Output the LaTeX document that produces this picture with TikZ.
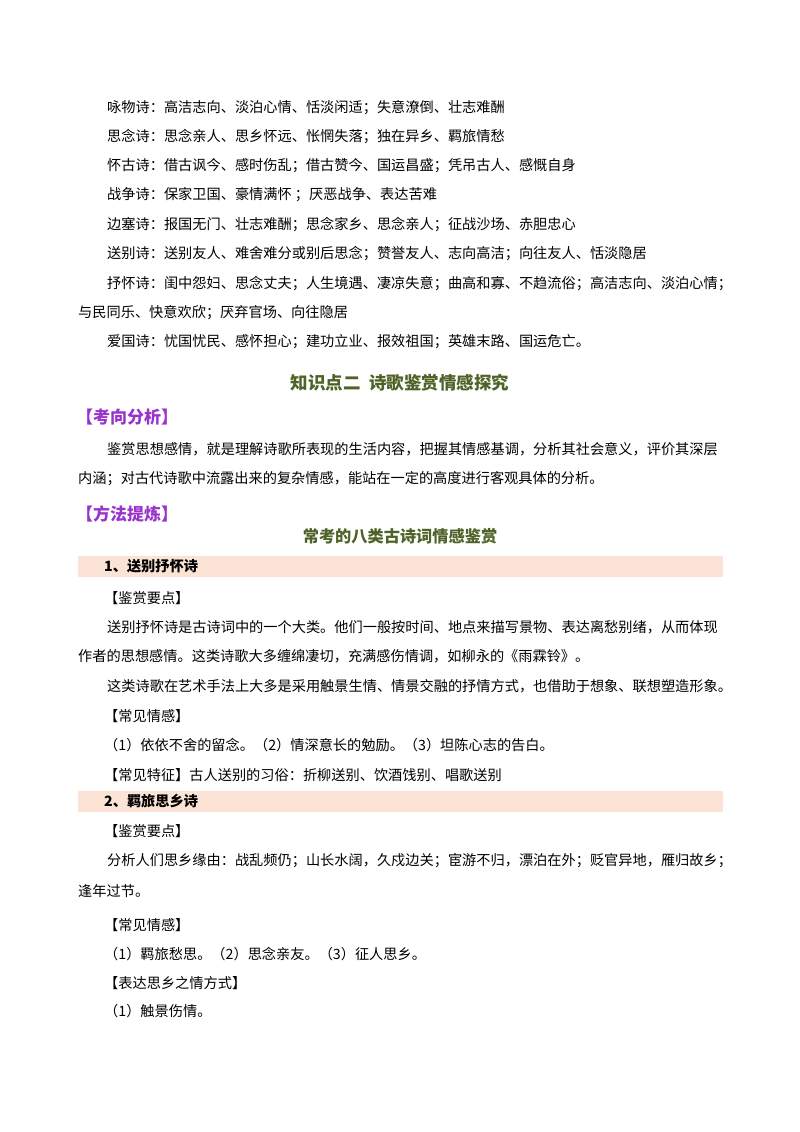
\documentclass[tikz,border=0pt]{standalone}
\usepackage{fontspec}
\setmainfont{Noto Sans CJK SC}
\definecolor{hgreen}{HTML}{4F6228}
\definecolor{hpurple}{HTML}{9933CC}
\definecolor{band}{HTML}{FBE4D5}
\begin{document}
\begin{tikzpicture}[x=1pt,y=-1pt,
  tx/.style={anchor=west,inner sep=0pt,font=\fontsize{14.2}{16}\selectfont},
  hd/.style={anchor=west,inner sep=0pt,font=\fontsize{17}{20}\selectfont\bfseries,text=hpurple},
  ttl/.style={inner sep=0pt,font=\fontsize{17.5}{20}\selectfont\bfseries,text=hgreen},
  bandbox/.style={fill=band,draw=none}]
\useasboundingbox (0,0) rectangle (800,1132);
\node[tx] (l1) at (107,108) {咏物诗：高洁志向、淡泊心情、恬淡闲适；失意潦倒、壮志难酬};
\node[tx] (l2) at (107,137) {思念诗：思念亲人、思乡怀远、怅惘失落；独在异乡、羁旅情愁};
\node[tx] (l3) at (107,166) {怀古诗：借古讽今、感时伤乱；借古赞今、国运昌盛；凭吊古人、感慨自身};
\node[tx] (l4) at (107,195) {战争诗：保家卫国、豪情满怀 ；厌恶战争、表达苦难};
\node[tx] (l5) at (107,225) {边塞诗：报国无门、壮志难酬；思念家乡、思念亲人；征战沙场、赤胆忠心};
\node[tx] (l6) at (107,254) {送别诗：送别友人、难舍难分或别后思念；赞誉友人、志向高洁；向往友人、恬淡隐居};
\node[tx] (l7) at (107,284) {抒怀诗：闺中怨妇、思念丈夫；人生境遇、凄凉失意；曲高和寡、不趋流俗；高洁志向、淡泊心情；};
\node[tx] (l7b) at (78,313) {与民同乐、快意欢欣；厌弃官场、向往隐居};
\node[tx] (l8) at (107,342) {爱国诗：忧国忧民、感怀担心；建功立业、报效祖国；英雄末路、国运危亡。};
\node[ttl] (t1) at (400,383) {知识点二\ \ 诗歌鉴赏情感探究};
\node[hd] (h1) at (76,417) {【考向分析】};
\node[tx] (p1) at (107,449) {鉴赏思想感情，就是理解诗歌所表现的生活内容，把握其情感基调，分析其社会意义，评价其深层};
\node[tx] (p2) at (78,479) {内涵；对古代诗歌中流露出来的复杂情感，能站在一定的高度进行客观具体的分析。};
\node[hd] (h2) at (76,514) {【方法提炼】};
\node[ttl,font=\fontsize{16.2}{18}\selectfont\bfseries] (t2) at (400,536) {常考的八类古诗词情感鉴赏};
\fill[bandbox] (78,556) rectangle (723,577);
\node[tx,font=\fontsize{14.2}{16}\selectfont\bfseries] (b1) at (104,566) {1、送别抒怀诗};
\node[tx] (a1) at (104,598) {【鉴赏要点】};
\node[tx] (a2) at (107,627) {送别抒怀诗是古诗词中的一个大类。他们一般按时间、地点来描写景物、表达离愁别绪，从而体现};
\node[tx] (a3) at (78,656) {作者的思想感情。这类诗歌大多缠绵凄切，充满感伤情调，如柳永的《雨霖铃》。};
\node[tx] (a4) at (107,686) {这类诗歌在艺术手法上大多是采用触景生情、情景交融的抒情方式，也借助于想象、联想塑造形象。};
\node[tx] (a5) at (104,716) {【常见情感】};
\node[tx] (a6) at (104,745) {（1）依依不舍的留念。（2）情深意长的勉励。（3）坦陈心志的告白。};
\node[tx] (a7) at (104,775) {【常见特征】古人送别的习俗：折柳送别、饮酒饯别、唱歌送别};
\fill[bandbox] (78,791) rectangle (723,812);
\node[tx,font=\fontsize{14.2}{16}\selectfont\bfseries] (b2) at (104,801) {2、羁旅思乡诗};
\node[tx] (c1) at (104,831) {【鉴赏要点】};
\node[tx] (c2) at (107,861) {分析人们思乡缘由：战乱频仍；山长水阔，久戍边关；宦游不归，漂泊在外；贬官异地，雁归故乡；};
\node[tx] (c3) at (78,891) {逢年过节。};
\node[tx] (c4) at (104,925) {【常见情感】};
\node[tx] (c5) at (104,954) {（1）羁旅愁思。（2）思念亲友。（3）征人思乡。};
\node[tx] (c6) at (104,983) {【表达思乡之情方式】};
\node[tx] (c7) at (104,1011) {（1）触景伤情。};
\end{tikzpicture}
\end{document}
